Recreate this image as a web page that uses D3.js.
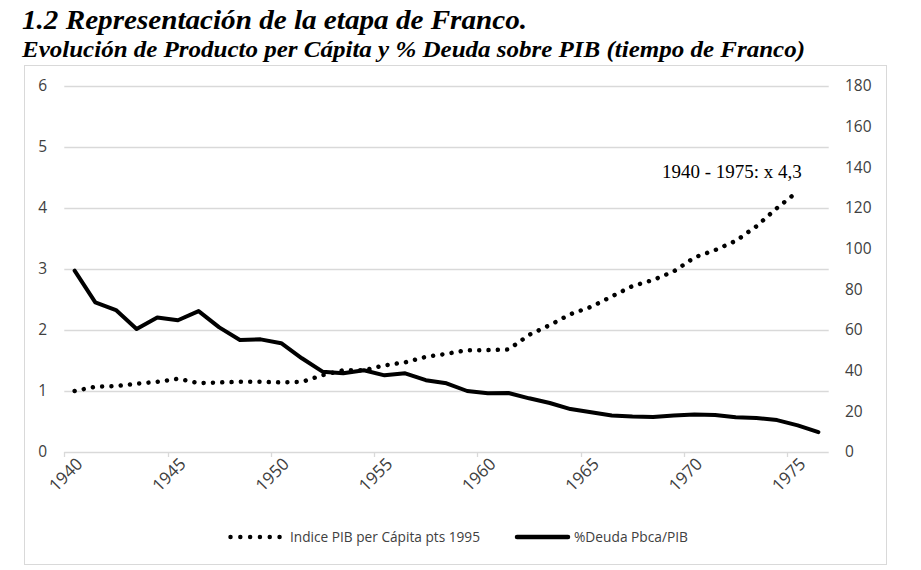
<!DOCTYPE html>
<html>
<head>
<meta charset="utf-8">
<script src="https://cdn.jsdelivr.net/npm/d3@7"></script>
<style>
  html, body { margin: 0; padding: 0; background: #fff; }
  svg { display: block; }
</style>
</head>
<body>
<svg id="chart" width="921" height="570"></svg>
<script>
const years = d3.range(1940, 1977);
const tickYears = [1940, 1945, 1950, 1955, 1960, 1965, 1970, 1975];
const leftTicks = [0, 1, 2, 3, 4, 5, 6];
const rightTicks = [0, 20, 40, 60, 80, 100, 120, 140, 160, 180];

// Indice PIB per Cápita pts 1995 (left axis), 1940-1975
const pibYears = d3.range(1940, 1976);
const pibValues = [1.00, 1.07, 1.08, 1.12, 1.15, 1.20, 1.13, 1.14, 1.15, 1.15,
                   1.14, 1.15, 1.26, 1.34, 1.34, 1.42, 1.47, 1.56, 1.61, 1.67,
                   1.67, 1.68, 1.92, 2.08, 2.26, 2.38, 2.55, 2.72, 2.82, 2.96,
                   3.19, 3.31, 3.46, 3.70, 4.00, 4.27];

// %Deuda Pbca/PIB (right axis), 1940-1976
const deudaYears = d3.range(1940, 1977);
const deudaValues = [89.2, 73.6, 69.8, 60.5, 66.1, 64.8, 69.3, 61.3, 55.1, 55.4,
                     53.5, 46.1, 39.5, 38.7, 40.2, 37.7, 38.7, 35.3, 33.8, 30.0,
                     28.9, 29.0, 26.4, 24.1, 21.1, 19.5, 18.0, 17.4, 17.2, 17.9,
                     18.5, 18.2, 17.1, 16.7, 15.7, 13.1, 9.8];

const titleText = "1.2 Representación de la etapa de Franco.";
const subtitleText = "Evolución de Producto per Cápita y % Deuda sobre PIB (tiempo de Franco)";
const annotationText = "1940 - 1975: x 4,3";
const legendLabels = ["Indice PIB per Cápita pts 1995", "%Deuda Pbca/PIB"];

const svg = d3.select("#chart");
const axisFont = "'Open Sans', 'Noto Sans', sans-serif";
const axisColor = "#404040";
const gridColor = "#d9d9d9";

// Titles
svg.append("text")
  .attr("x", 22).attr("y", 29)
  .attr("font-family", "'Liberation Serif', 'DejaVu Serif', serif")
  .attr("font-weight", "bold").attr("font-style", "italic")
  .attr("font-size", 27)
  .attr("textLength", 505).attr("lengthAdjust", "spacingAndGlyphs")
  .attr("fill", "#000")
  .text(titleText);

svg.append("text")
  .attr("x", 22).attr("y", 57)
  .attr("font-family", "'Liberation Serif', 'DejaVu Serif', serif")
  .attr("font-weight", "bold").attr("font-style", "italic")
  .attr("font-size", 23)
  .attr("textLength", 783).attr("lengthAdjust", "spacingAndGlyphs")
  .attr("fill", "#000")
  .text(subtitleText);

// Chart area border
svg.append("rect")
  .attr("x", 24.5).attr("y", 65.5)
  .attr("width", 862).attr("height", 499)
  .attr("fill", "none").attr("stroke", gridColor).attr("stroke-width", 1);

// Scales
const x = d3.scaleBand().domain(years).range([64.3, 828.7]).paddingInner(0).paddingOuter(0);
const xc = d => x(d) + x.bandwidth() / 2;
const yL = d3.scaleLinear().domain([0, 6]).range([452, 86]);
const yR = d3.scaleLinear().domain([0, 180]).range([452, 86]);

// Gridlines
svg.append("g").selectAll("line")
  .data(leftTicks)
  .join("line")
  .attr("x1", 64.3).attr("x2", 828.7)
  .attr("y1", d => Math.round(yL(d)) + 0.5).attr("y2", d => Math.round(yL(d)) + 0.5)
  .attr("stroke", gridColor).attr("stroke-width", 1.3);

// Left axis
const leftAxis = d3.axisLeft(yL).tickValues(leftTicks).tickSize(0).tickPadding(0).tickFormat(d3.format("d"));
const gL = svg.append("g").attr("transform", "translate(47,0)").call(leftAxis);
gL.select(".domain").remove();
gL.selectAll("text").attr("font-family", axisFont).attr("font-size", 15.5).attr("fill", axisColor);

// Right axis
const rightAxis = d3.axisRight(yR).tickValues(rightTicks).tickSize(0).tickPadding(0).tickFormat(d3.format("d"));
const gR = svg.append("g").attr("transform", "translate(845,0)").call(rightAxis);
gR.select(".domain").remove();
gR.selectAll("text").attr("font-family", axisFont).attr("font-size", 15.5).attr("fill", axisColor);

// X ticks at category boundaries every 5 categories
svg.append("g").selectAll("line")
  .data(tickYears)
  .join("line")
  .attr("x1", d => Math.round(x(d)) + 0.5).attr("x2", d => Math.round(x(d)) + 0.5)
  .attr("y1", 452).attr("y2", 457)
  .attr("stroke", gridColor).attr("stroke-width", 1.3);

// X labels (rotated)
svg.append("g").selectAll("text")
  .data(tickYears)
  .join("text")
  .attr("transform", d => `translate(${xc(d) + 9},${465}) rotate(-45)`)
  .attr("text-anchor", "end")
  .attr("font-family", axisFont).attr("font-size", 17).attr("fill", axisColor)
  .text(d => d);

// Lines
const linePib = d3.line().x((d, i) => xc(pibYears[i])).y(d => yL(d));
const lineDeuda = d3.line().x((d, i) => xc(deudaYears[i])).y(d => yR(d));

svg.append("path")
  .attr("d", lineDeuda(deudaValues))
  .attr("fill", "none").attr("stroke", "#000").attr("stroke-width", 4)
  .attr("stroke-linejoin", "round").attr("stroke-linecap", "round");

svg.append("path")
  .attr("d", linePib(pibValues))
  .attr("fill", "none").attr("stroke", "#000").attr("stroke-width", 4.5)
  .attr("stroke-linecap", "round").attr("stroke-dasharray", "0.01 9.3");

// Annotation
svg.append("text")
  .attr("x", 662).attr("y", 178)
  .attr("font-family", "'Liberation Serif', 'DejaVu Serif', serif")
  .attr("font-size", 19).attr("fill", "#000")
  .text(annotationText);

// Legend
const ly = 537;
svg.append("line")
  .attr("x1", 230.5).attr("x2", 281).attr("y1", ly).attr("y2", ly)
  .attr("stroke", "#000").attr("stroke-width", 4.5)
  .attr("stroke-linecap", "round").attr("stroke-dasharray", "0.01 9.8");
svg.append("text")
  .attr("x", 290).attr("y", ly).attr("dy", "0.35em")
  .attr("font-family", axisFont).attr("font-size", 15).attr("fill", axisColor)
  .attr("textLength", 190).attr("lengthAdjust", "spacingAndGlyphs")
  .text(legendLabels[0]);
svg.append("line")
  .attr("x1", 517).attr("x2", 568).attr("y1", ly).attr("y2", ly)
  .attr("stroke", "#000").attr("stroke-width", 4.5)
  .attr("stroke-linecap", "round");
svg.append("text")
  .attr("x", 574).attr("y", ly).attr("dy", "0.35em")
  .attr("font-family", axisFont).attr("font-size", 15).attr("fill", axisColor)
  .attr("textLength", 114).attr("lengthAdjust", "spacingAndGlyphs")
  .text(legendLabels[1]);
</script>
</body>
</html>
